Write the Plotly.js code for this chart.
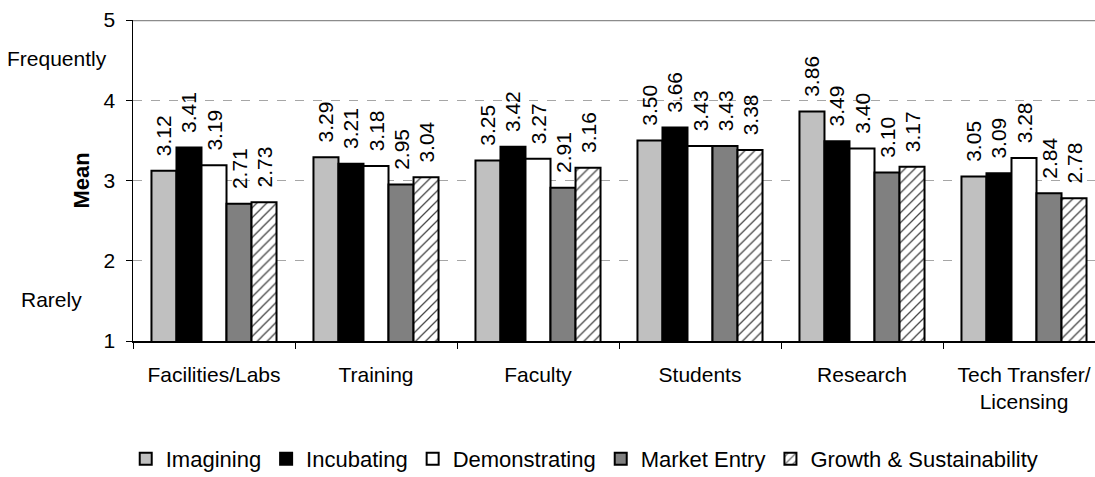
<!DOCTYPE html>
<html>
<head>
<meta charset="utf-8">
<script src="https://cdn.plot.ly/plotly-3.0.1.min.js"></script>
<style>
html,body{margin:0;padding:0;background:#fff;overflow:hidden;}
#chart{width:1095px;height:477px;}
</style>
</head>
<body>
<div id="chart"></div>
<script>
const categories = ["Facilities/Labs", "Training", "Faculty", "Students", "Research", "Tech Transfer/<br>Licensing"];
const seriesNames = ["Imagining", "Incubating", "Demonstrating", "Market Entry", "Growth & Sustainability"];
const imagining = [3.12, 3.29, 3.25, 3.50, 3.86, 3.05];
const incubating = [3.41, 3.21, 3.42, 3.66, 3.49, 3.09];
const demonstrating = [3.19, 3.18, 3.27, 3.43, 3.40, 3.28];
const marketEntry = [2.71, 2.95, 2.91, 3.43, 3.10, 2.84];
const growth = [2.73, 3.04, 3.16, 3.38, 3.17, 2.78];
const yTickVals = [1, 2, 3, 4, 5];

const FONT = "Liberation Sans, Arial, sans-serif";
const colors = ["#c0c0c0", "#000000", "#ffffff", "#808080", "#ffffff"];
const allValues = [imagining, incubating, demonstrating, marketEntry, growth];

const traces = allValues.map((vals, i) => {
  const marker = {color: colors[i], line: {color: "#000", width: 2}};
  if (i === 4) {
    marker.pattern = {shape: "/", fgcolor: "#444", bgcolor: "#fff", size: 7, solidity: 0.18};
  }
  return {
    type: "bar",
    name: seriesNames[i],
    x: categories,
    y: vals,
    text: vals.map(v => "\u00a0\u00a0" + v.toFixed(2)),
    textposition: "outside",
    textangle: -90,
    constraintext: "none",
    cliponaxis: false,
    textfont: {family: FONT, size: 21, color: "#000"},
    marker: marker,
    hoverinfo: "none"
  };
});

const layout = {
  width: 1095,
  height: 477,
  margin: {l: 133, r: 0, t: 20, b: 136, pad: 0},
  paper_bgcolor: "#fff",
  plot_bgcolor: "#fff",
  font: {family: FONT, size: 21, color: "#000"},
  barmode: "group",
  bargap: 0.228,
  bargroupgap: 0,
  showlegend: true,
  legend: {
    orientation: "h",
    xref: "container", yref: "container",
    x: 0.534, xanchor: "center",
    y: 0.038, yanchor: "middle",
    font: {family: FONT, size: 22, color: "#000"},
    traceorder: "normal",
    itemclick: false
  },
  xaxis: {
    type: "category",
    range: [-0.5, -0.5 + 962 / 162],
    showline: true, linecolor: "#000", linewidth: 1.5,
    ticks: "outside", tickson: "boundaries", ticklen: 6, tickcolor: "#000", tickwidth: 1,
    ticklabelstandoff: 14,
    tickfont: {family: FONT, size: 21, color: "#000"},
    showgrid: false, zeroline: false, automargin: false, fixedrange: true
  },
  yaxis: {
    range: [1, 5],
    tickvals: yTickVals,
    ticktext: yTickVals.map(String),
    showline: true, linecolor: "#000", linewidth: 1.5,
    ticks: "outside", ticklen: 6, tickcolor: "#000", tickwidth: 1,
    ticklabelstandoff: 6,
    tickfont: {family: FONT, size: 21, color: "#000"},
    showgrid: true, gridcolor: "#a6a6a6", griddash: "dash", gridwidth: 1,
    zeroline: false, automargin: false, fixedrange: true
  },
  shapes: [{
    type: "line", xref: "paper", yref: "y", x0: 0, x1: 1, y0: 5, y1: 5,
    line: {color: "#8c8c8c", width: 2.5}
  }],
  annotations: [
    {text: "<b>Mean</b>", textangle: -90, xref: "paper", yref: "paper",
     x: (81 - 133) / 962, y: 0.5, xanchor: "center", yanchor: "middle",
     showarrow: false, font: {family: FONT, size: 22, color: "#000"}},
    {text: "Frequently", xref: "paper", yref: "y", x: (57 - 133) / 962, y: 4.52,
     xanchor: "center", yanchor: "middle", showarrow: false,
     font: {family: FONT, size: 21, color: "#000"}},
    {text: "Rarely", xref: "paper", yref: "y", x: (51 - 133) / 962, y: 1.52,
     xanchor: "center", yanchor: "middle", showarrow: false,
     font: {family: FONT, size: 21, color: "#000"}}
  ]
};

Plotly.newPlot("chart", traces, layout, {displayModeBar: false, staticPlot: true});
</script>
</body>
</html>
